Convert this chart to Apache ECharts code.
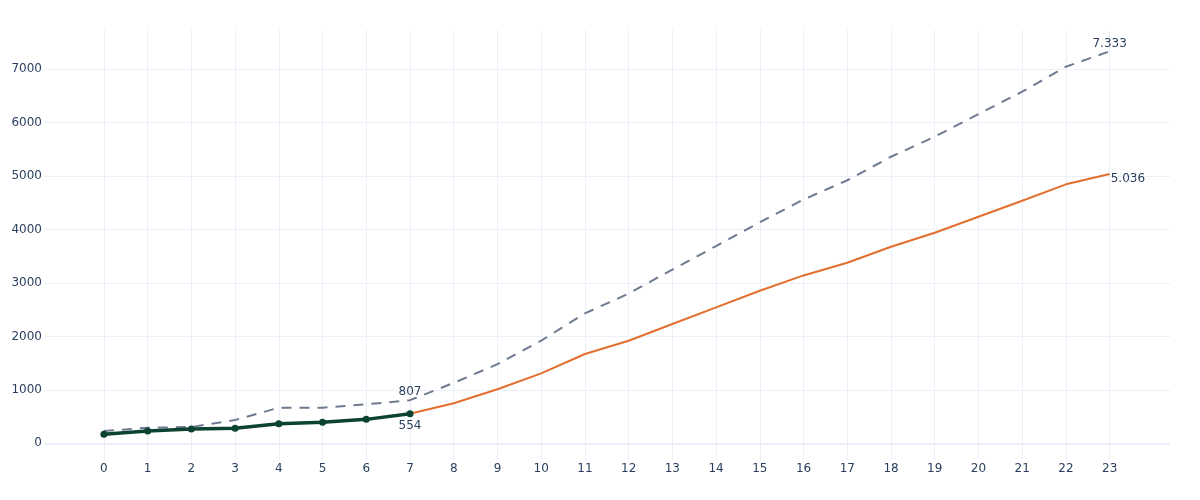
<!DOCTYPE html>
<html>
<head>
<meta charset="utf-8">
<script src="https://cdn.jsdelivr.net/npm/echarts@6/dist/echarts.min.js"></script>
<style>html,body{margin:0;padding:0;background:#fff}#c{width:1200px;height:500px}</style>
</head>
<body>
<div id="c"></div>
<script>
const xTicks = [0,1,2,3,4,5,6,7,8,9,10,11,12,13,14,15,16,17,18,19,20,21,22,23];
const yTicks = [0,1000,2000,3000,4000,5000,6000,7000];
const upperX = [0,1,2,3,4,5,6,7,8,9,10,11,12,13,14,15,16,17,18,19,20,21,22,23];
const upperY = [230,292,305,436,666,666,729,807,1130,1480,1920,2430,2800,3250,3690,4135,4560,4920,5360,5734,6158,6576,7043,7333];
const forecastX = [7,8,9,10,11,12,13,14,15,16,17,18,19,20,21,22,23];
const forecastY = [554,750,1010,1309,1670,1919,2231,2543,2854,3140,3378,3677,3939,4238,4537,4844,5036];
const actualX = [0,1,2,3,4,5,6,7];
const actualY = [168,230,267,280,367,392,448,554];
const labelText = {upper7:'807', upper23:'7.333', actual7:'554', forecast23:'5.036'};

const zip = (xs, ys) => xs.map((x,i)=>[x, ys[i]]);
const font = {fontFamily:'"DejaVu Sans", sans-serif', fontSize:12, color:'#2a3f5f'};

const upperData = zip(upperX, upperY).map((p,i)=>{
  if (i === 7) return {value:p, label:{show:true, position:'top', distance:2, formatter:labelText.upper7, ...font}};
  if (i === upperX.length-1) return {value:p, label:{show:true, position:'top', distance:1, formatter:labelText.upper23, ...font}};
  return p;
});
const forecastData = zip(forecastX, forecastY).map((p,i)=>{
  if (i === forecastX.length-1) return {value:p, label:{show:true, position:'right', distance:1, offset:[0,5], formatter:labelText.forecast23, ...font}};
  return p;
});
const actualData = zip(actualX, actualY).map((p,i)=>{
  if (i === actualX.length-1) return {value:p, label:{show:true, position:'bottom', distance:3, formatter:labelText.actual7, ...font}};
  return p;
});

const chart = echarts.init(document.getElementById('c'), null, {renderer:'canvas'});
chart.setOption({
  animation:false,
  backgroundColor:'#fff',
  grid:{left:44, right:30, top:30, bottom:40, containLabel:false},
  xAxis:{
    type:'value', min:-1.37, max:24.38,
    axisLine:{show:false},
    axisTick:{show:false, customValues:xTicks},
    axisLabel:{customValues:xTicks, margin:3, formatter:v=>String(v), ...font},
    splitLine:{show:true, lineStyle:{color:'#ebf0f8', width:1}}
  },
  yAxis:{
    type:'value', min:-312, max:7730,
    axisLine:{show:false},
    axisTick:{show:false, customValues:yTicks},
    axisLabel:{customValues:yTicks, margin:2, formatter:v=>String(v), ...font},
    splitLine:{show:true, lineStyle:{color:'#ebf0f8', width:1}}
  },
  series:[
    {
      type:'line', data:upperData, symbol:'circle', symbolSize:0.1, showSymbol:true,
      itemStyle:{color:'#6e7a90'},
      lineStyle:{color:'#6e7a90', width:2, type:[10,8]},
      markLine:{silent:true, symbol:'none', label:{show:false},
        lineStyle:{color:'#ebf0f8', width:2, type:'solid'}, data:[{yAxis:0}]},
      z:2
    },
    {
      type:'line', data:forecastData, symbol:'circle', symbolSize:0.1, showSymbol:true,
      itemStyle:{color:'#e36f2e'},
      lineStyle:{color:'#e36f2e', width:2},
      z:3
    },
    {
      type:'line', data:actualData, symbol:'circle', symbolSize:7, showSymbol:true,
      itemStyle:{color:'#0b4231'},
      lineStyle:{color:'#0b4231', width:3.5},
      z:4
    }
  ]
});
</script>
</body>
</html>
